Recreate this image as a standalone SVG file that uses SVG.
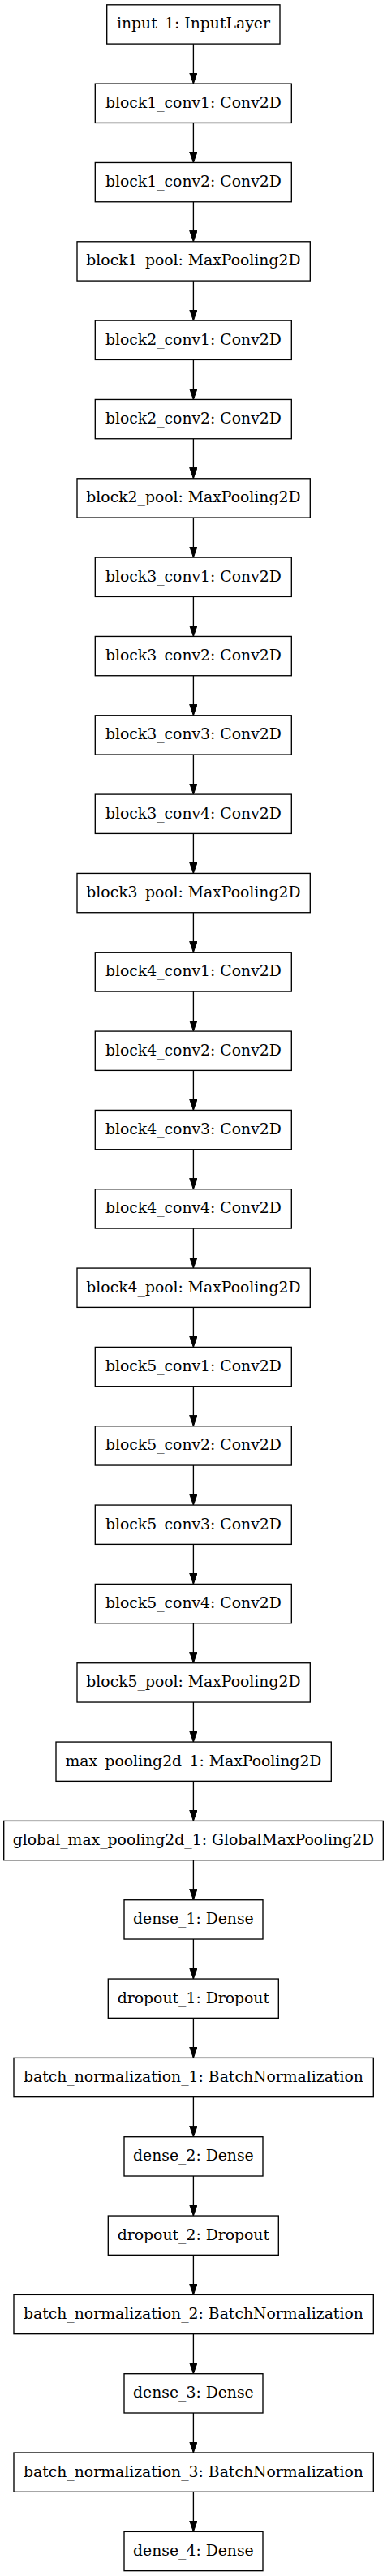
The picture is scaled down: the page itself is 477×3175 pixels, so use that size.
<svg xmlns="http://www.w3.org/2000/svg" width="477" height="3175" viewBox="0 0 477 3175">
<style>
.b{fill:#fff;stroke:#000;stroke-width:1.35}
.t{font-family:"DejaVu Serif",serif;font-size:18.8px;text-anchor:middle;fill:#000}
.e{stroke:#000;stroke-width:1.35;fill:none;marker-end:url(#ah)}
</style>
<defs>
<marker id="ah" markerUnits="userSpaceOnUse" markerWidth="14" markerHeight="10" refX="13.5" refY="4.7" orient="auto" viewBox="0 0 14 9.4">
<path d="M0,0 L13.5,4.7 L0,9.4 z" fill="#000" stroke="#000" stroke-width="1"/>
</marker>
</defs>
<rect width="477" height="3175" fill="#fff"/>
<g id="connectors">
<path class="e" d="M238.4,54.1V103.1"/>
<path class="e" d="M238.4,151.4V200.5"/>
<path class="e" d="M238.4,248.8V297.8"/>
<path class="e" d="M238.4,346.1V395.1"/>
<path class="e" d="M238.4,443.4V492.5"/>
<path class="e" d="M238.4,540.8V589.8"/>
<path class="e" d="M238.4,638.1V687.1"/>
<path class="e" d="M238.4,735.4V784.4"/>
<path class="e" d="M238.4,832.7V881.8"/>
<path class="e" d="M238.4,930.1V979.1"/>
<path class="e" d="M238.4,1027.4V1076.4"/>
<path class="e" d="M238.4,1124.7V1173.8"/>
<path class="e" d="M238.4,1222.1V1271.1"/>
<path class="e" d="M238.4,1319.4V1368.4"/>
<path class="e" d="M238.4,1416.7V1465.8"/>
<path class="e" d="M238.4,1514.1V1563.1"/>
<path class="e" d="M238.4,1611.4V1660.4"/>
<path class="e" d="M238.4,1708.7V1757.7"/>
<path class="e" d="M238.4,1806.0V1855.1"/>
<path class="e" d="M238.4,1903.4V1952.4"/>
<path class="e" d="M238.4,2000.7V2049.7"/>
<path class="e" d="M238.4,2098.0V2147.1"/>
<path class="e" d="M238.4,2195.4V2244.4"/>
<path class="e" d="M238.4,2292.7V2341.7"/>
<path class="e" d="M238.4,2390.0V2439.1"/>
<path class="e" d="M238.4,2487.4V2536.4"/>
<path class="e" d="M238.4,2584.7V2633.7"/>
<path class="e" d="M238.4,2682.0V2731.0"/>
<path class="e" d="M238.4,2779.3V2828.4"/>
<path class="e" d="M238.4,2876.7V2925.7"/>
<path class="e" d="M238.4,2974.0V3023.0"/>
<path class="e" d="M238.4,3071.3V3120.4"/>
</g>
<g id="input_1" transform="translate(0,5.8)"><rect class="b" x="131.7" y="0" width="213.3" height="48.3"/><text class="t" x="238.4" y="29.7">input_1: InputLayer</text></g>
<g id="block1_conv1" transform="translate(0,103.13)"><rect class="b" x="117.3" y="0" width="242" height="48.3"/><text class="t" x="238.4" y="29.7">block1_conv1: Conv2D</text></g>
<g id="block1_conv2" transform="translate(0,200.46)"><rect class="b" x="117.3" y="0" width="242" height="48.3"/><text class="t" x="238.4" y="29.7">block1_conv2: Conv2D</text></g>
<g id="block1_pool" transform="translate(0,297.79)"><rect class="b" x="95" y="0" width="287.3" height="48.3"/><text class="t" x="238.4" y="29.7">block1_pool: MaxPooling2D</text></g>
<g id="block2_conv1" transform="translate(0,395.12)"><rect class="b" x="117.3" y="0" width="242" height="48.3"/><text class="t" x="238.4" y="29.7">block2_conv1: Conv2D</text></g>
<g id="block2_conv2" transform="translate(0,492.45)"><rect class="b" x="117.3" y="0" width="242" height="48.3"/><text class="t" x="238.4" y="29.7">block2_conv2: Conv2D</text></g>
<g id="block2_pool" transform="translate(0,589.78)"><rect class="b" x="95" y="0" width="287.3" height="48.3"/><text class="t" x="238.4" y="29.7">block2_pool: MaxPooling2D</text></g>
<g id="block3_conv1" transform="translate(0,687.11)"><rect class="b" x="117.3" y="0" width="242" height="48.3"/><text class="t" x="238.4" y="29.7">block3_conv1: Conv2D</text></g>
<g id="block3_conv2" transform="translate(0,784.44)"><rect class="b" x="117.3" y="0" width="242" height="48.3"/><text class="t" x="238.4" y="29.7">block3_conv2: Conv2D</text></g>
<g id="block3_conv3" transform="translate(0,881.77)"><rect class="b" x="117.3" y="0" width="242" height="48.3"/><text class="t" x="238.4" y="29.7">block3_conv3: Conv2D</text></g>
<g id="block3_conv4" transform="translate(0,979.10)"><rect class="b" x="117.3" y="0" width="242" height="48.3"/><text class="t" x="238.4" y="29.7">block3_conv4: Conv2D</text></g>
<g id="block3_pool" transform="translate(0,1076.43)"><rect class="b" x="95" y="0" width="287.3" height="48.3"/><text class="t" x="238.4" y="29.7">block3_pool: MaxPooling2D</text></g>
<g id="block4_conv1" transform="translate(0,1173.76)"><rect class="b" x="117.3" y="0" width="242" height="48.3"/><text class="t" x="238.4" y="29.7">block4_conv1: Conv2D</text></g>
<g id="block4_conv2" transform="translate(0,1271.09)"><rect class="b" x="117.3" y="0" width="242" height="48.3"/><text class="t" x="238.4" y="29.7">block4_conv2: Conv2D</text></g>
<g id="block4_conv3" transform="translate(0,1368.42)"><rect class="b" x="117.3" y="0" width="242" height="48.3"/><text class="t" x="238.4" y="29.7">block4_conv3: Conv2D</text></g>
<g id="block4_conv4" transform="translate(0,1465.75)"><rect class="b" x="117.3" y="0" width="242" height="48.3"/><text class="t" x="238.4" y="29.7">block4_conv4: Conv2D</text></g>
<g id="block4_pool" transform="translate(0,1563.08)"><rect class="b" x="95" y="0" width="287.3" height="48.3"/><text class="t" x="238.4" y="29.7">block4_pool: MaxPooling2D</text></g>
<g id="block5_conv1" transform="translate(0,1660.41)"><rect class="b" x="117.3" y="0" width="242" height="48.3"/><text class="t" x="238.4" y="29.7">block5_conv1: Conv2D</text></g>
<g id="block5_conv2" transform="translate(0,1757.74)"><rect class="b" x="117.3" y="0" width="242" height="48.3"/><text class="t" x="238.4" y="29.7">block5_conv2: Conv2D</text></g>
<g id="block5_conv3" transform="translate(0,1855.07)"><rect class="b" x="117.3" y="0" width="242" height="48.3"/><text class="t" x="238.4" y="29.7">block5_conv3: Conv2D</text></g>
<g id="block5_conv4" transform="translate(0,1952.40)"><rect class="b" x="117.3" y="0" width="242" height="48.3"/><text class="t" x="238.4" y="29.7">block5_conv4: Conv2D</text></g>
<g id="block5_pool" transform="translate(0,2049.73)"><rect class="b" x="95" y="0" width="287.3" height="48.3"/><text class="t" x="238.4" y="29.7">block5_pool: MaxPooling2D</text></g>
<g id="max_pooling2d_1" transform="translate(0,2147.06)"><rect class="b" x="69" y="0" width="339.3" height="48.3"/><text class="t" x="238.4" y="29.7">max_pooling2d_1: MaxPooling2D</text></g>
<g id="global_max_pooling2d_1" transform="translate(0,2244.39)"><rect class="b" x="4.7" y="0" width="467.6" height="48.3"/><text class="t" x="238.4" y="29.7">global_max_pooling2d_1: GlobalMaxPooling2D</text></g>
<g id="dense_1" transform="translate(0,2341.72)"><rect class="b" x="153" y="0" width="171" height="48.3"/><text class="t" x="238.4" y="29.7">dense_1: Dense</text></g>
<g id="dropout_1" transform="translate(0,2439.05)"><rect class="b" x="133.3" y="0" width="210" height="48.3"/><text class="t" x="238.4" y="29.7">dropout_1: Dropout</text></g>
<g id="batch_normalization_1" transform="translate(0,2536.38)"><rect class="b" x="17" y="0" width="443.3" height="48.3"/><text class="t" x="238.4" y="29.7">batch_normalization_1: BatchNormalization</text></g>
<g id="dense_2" transform="translate(0,2633.71)"><rect class="b" x="153" y="0" width="171" height="48.3"/><text class="t" x="238.4" y="29.7">dense_2: Dense</text></g>
<g id="dropout_2" transform="translate(0,2731.04)"><rect class="b" x="133.3" y="0" width="210" height="48.3"/><text class="t" x="238.4" y="29.7">dropout_2: Dropout</text></g>
<g id="batch_normalization_2" transform="translate(0,2828.37)"><rect class="b" x="17" y="0" width="443.3" height="48.3"/><text class="t" x="238.4" y="29.7">batch_normalization_2: BatchNormalization</text></g>
<g id="dense_3" transform="translate(0,2925.70)"><rect class="b" x="153" y="0" width="171" height="48.3"/><text class="t" x="238.4" y="29.7">dense_3: Dense</text></g>
<g id="batch_normalization_3" transform="translate(0,3023.03)"><rect class="b" x="17" y="0" width="443.3" height="48.3"/><text class="t" x="238.4" y="29.7">batch_normalization_3: BatchNormalization</text></g>
<g id="dense_4" transform="translate(0,3120.36)"><rect class="b" x="153" y="0" width="171" height="48.3"/><text class="t" x="238.4" y="29.7">dense_4: Dense</text></g>
</svg>
